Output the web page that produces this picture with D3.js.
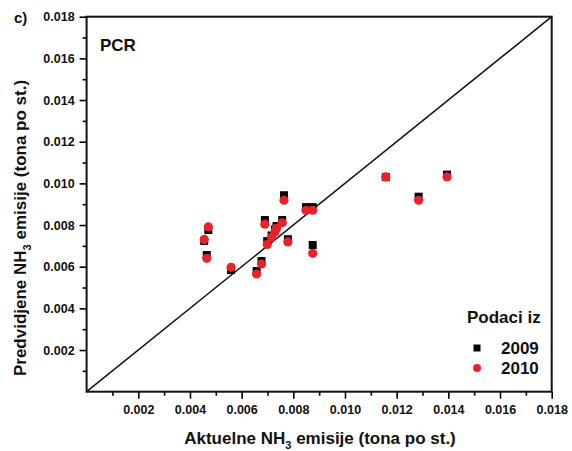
<!doctype html>
<html lang="en">
<head>
  <meta charset="utf-8">
  <title>PCR NH3</title>
  <script src="https://cdn.jsdelivr.net/npm/d3@7"></script>
  <style>
    body { margin: 0; background: #fff; }
    svg text { font-family: "Liberation Sans", Arial, sans-serif; font-weight: bold; fill: #111; }
  </style>
</head>
<body>
  <svg id="chart"></svg>
  <script>
    'use strict';

    // actual values (x) and predicted values (y), tona po st.
    var actual2009 = [0.00471, 0.00455, 0.00465, 0.00559, 0.00677, 0.00658, 0.00690, 0.00699, 0.00716, 0.00729, 0.00735, 0.00757, 0.00764, 0.00779, 0.00849, 0.00875, 0.00875, 0.01158, 0.01395, 0.01285];
    var pred2009   = [0.00776, 0.00724, 0.00656, 0.00584, 0.00627, 0.00579, 0.00824, 0.00723, 0.00750, 0.00778, 0.00795, 0.00824, 0.00943, 0.00732, 0.00886, 0.00886, 0.00704, 0.01030, 0.01042, 0.00936];
    var actual2010 = [0.00471, 0.00455, 0.00465, 0.00559, 0.00677, 0.00658, 0.00690, 0.00699, 0.00716, 0.00729, 0.00735, 0.00757, 0.00764, 0.00779, 0.00849, 0.00875, 0.00875, 0.01158, 0.01395, 0.01285];
    var pred2010   = [0.00791, 0.00731, 0.00640, 0.00597, 0.00613, 0.00565, 0.00804, 0.00707, 0.00741, 0.00767, 0.00784, 0.00811, 0.00919, 0.00719, 0.00871, 0.00871, 0.00664, 0.01031, 0.01031, 0.00919];
    var majorTicks = [0.002, 0.004, 0.006, 0.008, 0.010, 0.012, 0.014, 0.016, 0.018];
    var minorTicks = [0.001, 0.003, 0.005, 0.007, 0.009, 0.011, 0.013, 0.015, 0.017];
    var legendYears = ["2009", "2010"];

    var WIDTH = 572, HEIGHT = 451;
    var mLeft = 86.6, mRight = 551.7, mTop = 16.7, mBottom = 391.7;

    var svg = d3.select("#chart").attr("width", WIDTH).attr("height", HEIGHT);

    var x = d3.scaleLinear().domain([0, 0.018]).range([mLeft, mRight]);
    var y = d3.scaleLinear().domain([0, 0.018]).range([mBottom, mTop]);

    // minor ticks
    svg.append("g").attr("transform", "translate(0," + mBottom + ")")
      .call(d3.axisBottom(x).tickValues(minorTicks).tickSize(4).tickFormat(""))
      .call(function(g){ g.select(".domain").remove(); g.selectAll("line").attr("stroke-width", 1.6); });
    svg.append("g").attr("transform", "translate(" + mLeft + ",0)")
      .call(d3.axisLeft(y).tickValues(minorTicks).tickSize(4).tickFormat(""))
      .call(function(g){ g.select(".domain").remove(); g.selectAll("line").attr("stroke-width", 1.6); });

    // major ticks + labels
    var xAxis = svg.append("g").attr("transform", "translate(0," + mBottom + ")")
      .call(d3.axisBottom(x).tickValues(majorTicks).tickSize(7).tickPadding(6).tickFormat(d3.format(".3f")));
    xAxis.select(".domain").remove();
    xAxis.selectAll("line").attr("stroke-width", 1.6);
    xAxis.selectAll("text").style("font-size", "12.5px").style("font-family", "'Liberation Sans', Arial, sans-serif").style("font-weight", "bold");

    var yAxis = svg.append("g").attr("transform", "translate(" + mLeft + ",0)")
      .call(d3.axisLeft(y).tickValues(majorTicks).tickSize(7).tickPadding(5).tickFormat(d3.format(".3f")));
    yAxis.select(".domain").remove();
    yAxis.selectAll("line").attr("stroke-width", 1.6);
    yAxis.selectAll("text").style("font-size", "12.5px").style("font-family", "'Liberation Sans', Arial, sans-serif").style("font-weight", "bold");

    // frame
    svg.append("rect").attr("x", mLeft).attr("y", mTop)
      .attr("width", mRight - mLeft).attr("height", mBottom - mTop)
      .attr("fill", "none").attr("stroke", "#111").attr("stroke-width", 2);

    // 1:1 line
    svg.append("line")
      .attr("x1", x(0)).attr("y1", y(0)).attr("x2", x(0.018)).attr("y2", y(0.018))
      .attr("stroke", "#111").attr("stroke-width", 1.5);

    // data
    var d2009 = actual2009.map(function(v, i){ return [v, pred2009[i]]; });
    var d2010 = actual2010.map(function(v, i){ return [v, pred2010[i]]; });

    svg.append("g").selectAll("rect").data(d2009).enter().append("rect")
      .attr("x", function(d){ return x(d[0]) - 4; })
      .attr("y", function(d){ return y(d[1]) - 4; })
      .attr("width", 8).attr("height", 8).attr("fill", "#000");

    svg.append("g").selectAll("circle").data(d2010).enter().append("circle")
      .attr("cx", function(d){ return x(d[0]); })
      .attr("cy", function(d){ return y(d[1]); })
      .attr("r", 4.6).attr("fill", "#e8222b");

    // texts
    svg.append("text").attr("x", 14).attr("y", 23).style("font-size", "15px").text("c)");
    svg.append("text").attr("x", 100).attr("y", 51).style("font-size", "17px").text("PCR");

    var xt = svg.append("text").attr("x", 320).attr("y", 444)
      .attr("text-anchor", "middle").style("font-size", "17px");
    xt.append("tspan").text("Aktuelne NH");
    xt.append("tspan").attr("dy", 5).style("font-size", "11px").text("3");
    xt.append("tspan").attr("dy", -5).text(" emisije (tona po st.)");

    var yt = svg.append("text").attr("transform", "translate(26,228) rotate(-90)")
      .attr("text-anchor", "middle").style("font-size", "17px");
    yt.append("tspan").text("Predvidjene NH");
    yt.append("tspan").attr("dy", 5).style("font-size", "11px").text("3");
    yt.append("tspan").attr("dy", -5).text(" emisije (tona po st.)");

    // legend
    svg.append("text").attr("x", 467).attr("y", 323).style("font-size", "17px").text("Podaci iz");
    var lg = svg.append("g").selectAll("g").data(legendYears).enter().append("g")
      .attr("transform", function(d, i){ return "translate(0," + (348 + i * 20) + ")"; });
    lg.append("text").attr("x", 501).attr("y", 6).style("font-size", "17px").text(function(d){ return d; });
    lg.filter(function(d, i){ return i === 0; }).append("rect")
      .attr("x", 473.5).attr("y", -3.5).attr("width", 7).attr("height", 7).attr("fill", "#000");
    lg.filter(function(d, i){ return i === 1; }).append("circle")
      .attr("cx", 477).attr("cy", 0).attr("r", 4).attr("fill", "#e8222b");
  </script>
</body>
</html>
